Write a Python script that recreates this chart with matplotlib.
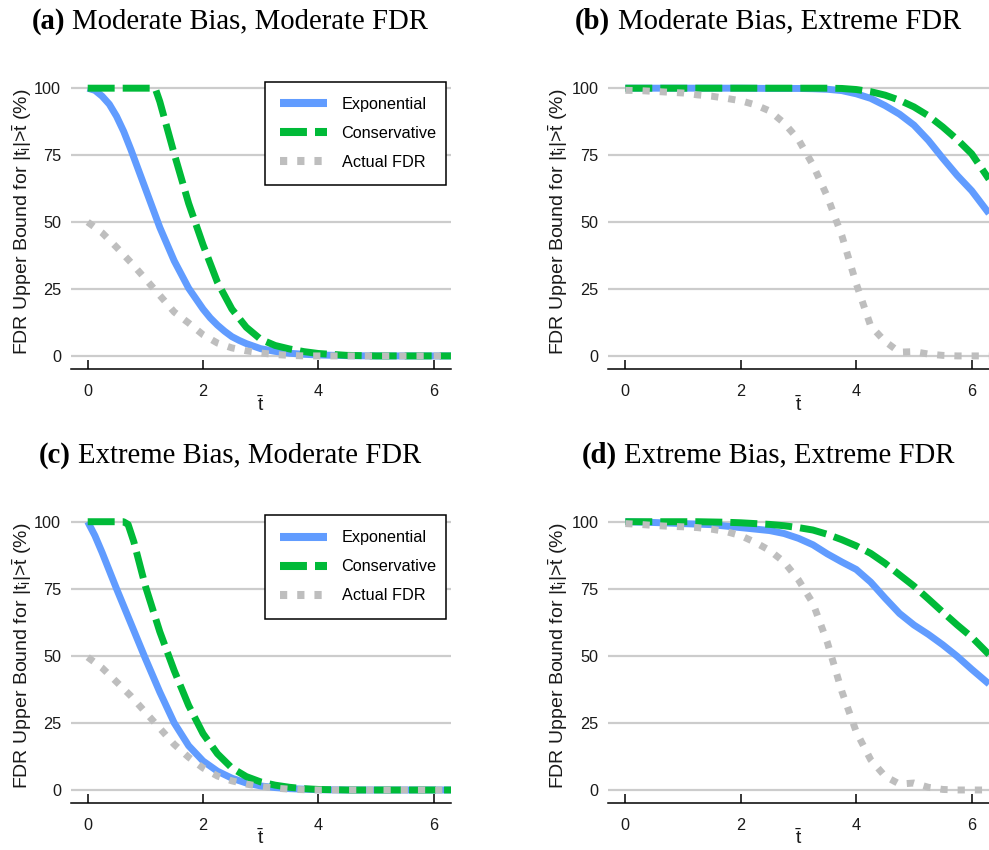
import matplotlib
matplotlib.use('Agg')
import matplotlib.pyplot as plt
from matplotlib.patches import Rectangle

plt.rcParams['mathtext.fontset'] = 'custom'
plt.rcParams['mathtext.rm'] = 'Liberation Sans'
plt.rcParams['mathtext.it'] = 'Liberation Sans'
plt.rcParams['mathtext.bf'] = 'Liberation Sans:bold'
plt.rcParams['font.family'] = ['Liberation Sans', 'DejaVu Sans']
plt.rcParams['lines.scale_dashes'] = False

# ---------------- data ----------------
series_labels = ['Exponential', 'Conservative', 'Actual FDR']
x_ticks = [0, 2, 4, 6]
y_ticks = [0, 25, 50, 75, 100]

grid_x = [0, 0.25, 0.5, 0.75, 1.0, 1.25, 1.5, 1.75, 2.0, 2.25, 2.5, 2.75, 3.0,
          3.25, 3.5, 3.75, 4.0, 4.25, 4.5, 4.75, 5.0, 5.25, 5.5, 5.75, 6.0, 6.3]

# (a) Moderate Bias, Moderate FDR
a_exp_x = [0, 0.125, 0.25, 0.375, 0.5, 0.625, 0.75, 1.0, 1.25, 1.5, 1.75, 2.0, 2.125, 2.25, 2.375,
           2.5, 2.625, 2.75, 3.0, 3.25, 3.5, 3.75, 4.0, 4.5, 5.0, 6.3]
a_exp_y = [100, 99.2, 97, 94, 89.5, 83.8, 77, 62.5, 48, 35.5, 25.3, 17.5, 14.2, 11.5, 9.2,
           7.2, 5.8, 4.6, 2.7, 1.7, 1.0, 0.6, 0.35, 0.1, 0, 0]
a_con_x = [0, 1.17, 1.25, 1.5, 1.75, 2.0, 2.25, 2.5, 2.75, 3.0, 3.25, 3.5, 3.75, 4.0, 4.5, 5.0, 6.3]
a_con_y = [100, 100, 95, 75.5, 57, 41.5, 27.5, 17.5, 10.7, 6.2, 3.9, 2.6, 1.6, 0.9, 0.2, 0, 0]
a_act_y = [50, 46, 40.6, 34.9, 28.8, 22.6, 16.4, 12.3, 7.9, 4.8, 3.0, 1.9, 1.1,
           0.5, 0.2, 0, 0, 0, 0, 0, 0, 0, 0, 0, 0, 0]

# (b) Moderate Bias, Extreme FDR
b_exp_x = [0, 1, 2, 2.5, 3.0, 3.25, 3.5, 3.75, 4.0, 4.25, 4.5, 4.75, 5.0, 5.25, 5.5, 5.75, 6.0, 6.3]
b_exp_y = [100, 100, 100, 99.9, 99.9, 99.8, 99.6, 99.1, 97.9, 96.2, 93.5, 90.3, 86.2, 80.5, 73.8, 67.4, 61.7, 53.2]
b_con_x = [0, 3.5, 3.75, 4.0, 4.25, 4.5, 4.75, 5.0, 5.25, 5.5, 5.75, 6.0, 6.3]
b_con_y = [100, 100, 99.9, 99.5, 98.7, 97.4, 95.5, 93, 89.7, 85.5, 80.8, 75.5, 66]
b_act_y = [99.2, 99.1, 98.8, 98.5, 98.2, 97.5, 97, 96.2, 95.3, 93.8, 91.5, 87, 80.8,
           71.3, 59.5, 45, 27, 11.2, 5.4, 1.4, 1.6, 0.7, 0.2, 0, 0, 0]

# (c) Extreme Bias, Moderate FDR
c_exp_x = [0, 0.125, 0.25, 0.5, 0.75, 1.0, 1.25, 1.5, 1.75, 2.0, 2.25, 2.5, 2.75, 3.0, 3.25, 3.5, 4.0, 4.5, 6.3]
c_exp_y = [100, 94.8, 88.5, 75, 62, 49, 36.5, 25, 16.5, 10.8, 7, 4.4, 2.6, 1.5, 0.9, 0.5, 0.1, 0, 0]
c_con_x = [0, 0.62, 0.7, 0.8, 1.0, 1.25, 1.5, 1.75, 2.0, 2.25, 2.5, 2.75, 3.0, 3.25, 3.5, 3.75, 4.0, 4.5, 6.3]
c_con_y = [100, 100, 99, 92.5, 76, 59, 44.5, 31.5, 21, 13.5, 8.2, 5, 3, 1.8, 1, 0.5, 0.2, 0, 0]
c_act_y = [49.5, 45.5, 40.3, 35, 29, 23, 17, 12.2, 8.2, 5.2, 3.4, 2.2, 1.3,
           0.7, 0.3, 0.1, 0, 0, 0, 0, 0, 0, 0, 0, 0, 0]

# (d) Extreme Bias, Extreme FDR
d_exp_x = [0, 0.5, 1.0, 1.5, 2.0, 2.5, 2.75, 3.0, 3.25, 3.5, 3.75, 4.0, 4.25, 4.5, 4.75, 5.0, 5.25, 5.5, 5.75, 6.0, 6.3]
d_exp_y = [100, 99.7, 99.3, 98.9, 97.8, 96.7, 95.6, 93.8, 91.4, 88, 85, 82.2, 77.5, 71.5, 65.8, 61.5, 58, 54.1, 49.8, 45, 39.5]
d_con_x = [0, 1.25, 1.5, 1.75, 2.0, 2.25, 2.5, 2.75, 3.0, 3.25, 3.5, 3.75, 4.0, 4.25, 4.5, 4.75, 5.0, 5.25, 5.5, 5.75, 6.0, 6.3]
d_con_y = [100, 100, 99.9, 99.8, 99.6, 99.3, 99, 98.5, 97.8, 96.9, 95.3, 93.3, 91, 88.2, 84.5, 80.2, 76, 71.2, 66.3, 61.5, 57, 50.5]
d_act_y = [99.3, 99, 98.6, 98.3, 98.1, 97.8, 97.2, 96.3, 94.8, 92.3, 89.3, 85, 78.3,
           69.6, 55, 36.8, 21.7, 11.3, 5.1, 2.2, 2.6, 1, 0.2, 0, 0, 0]

panel_tags = ['(a)', '(b)', '(c)', '(d)']
panel_titles = ['Moderate Bias, Moderate FDR', 'Moderate Bias, Extreme FDR',
                'Extreme Bias, Moderate FDR', 'Extreme Bias, Extreme FDR']

# ---------------- layout ----------------
W, H = 989, 850
fig = plt.figure(figsize=(W / 100, H / 100), dpi=100)

def rect(left, right, top, bottom):
    return [left / W, 1 - bottom / H, (right - left) / W, (bottom - top) / H]

boxes = [(70.7, 451, 74.8, 369.3), (608.3, 989, 74.8, 369.3),
         (70.7, 451, 508.3, 803.4), (608.3, 989, 508.3, 803.4)]
title_pos = [(230, 28.3), (768, 28.3), (230, 462.3), (768, 462.3)]
ylab_x = [22, 558, 22, 558]
xlab_y = [405, 405, 838, 838]

COL = ['#619CFF', '#00BA38', '#BEBEBE']
LW = 5.0

data = [
    (a_exp_x, a_exp_y, a_con_x, a_con_y, grid_x, a_act_y),
    (b_exp_x, b_exp_y, b_con_x, b_con_y, grid_x, b_act_y),
    (c_exp_x, c_exp_y, c_con_x, c_con_y, grid_x, c_act_y),
    (d_exp_x, d_exp_y, d_con_x, d_con_y, grid_x, d_act_y),
]

renderer = fig.canvas.get_renderer()

for i in range(4):
    l, r, t, b = boxes[i]
    aw, ah = r - l, b - t
    ax = fig.add_axes(rect(l, r, t, b))
    ex, ey, cx, cy, gx, gy = data[i]
    ax.plot(ex, ey, color=COL[0], lw=LW, solid_capstyle='butt', solid_joinstyle='round',
            label=series_labels[0])
    ax.plot(cx, cy, color=COL[1], lw=LW, dashes=(19.4, 5.8), dash_capstyle='butt',
            dash_joinstyle='round', label=series_labels[1])
    ax.plot(gx, gy, color=COL[2], lw=LW, dashes=(5.2, 7.2), dash_capstyle='butt',
            dash_joinstyle='round', label=series_labels[2])
    ax.set_xlim(-0.295, 6.3)
    ax.set_ylim(-5, 105)
    for s in ['left', 'top', 'right']:
        ax.spines[s].set_visible(False)
    ax.spines['bottom'].set_linewidth(1.1)
    ax.spines['bottom'].set_color('black')
    ax.set_xticks(x_ticks)
    ax.set_yticks(y_ticks)
    ax.tick_params(axis='y', length=0, pad=7, labelsize=11.7, labelcolor='#1a1a1a')
    ax.tick_params(axis='x', direction='in', length=6.2, width=1.1, pad=10.5,
                   labelsize=11.7, labelcolor='#1a1a1a')
    ax.grid(axis='y', color='#cccccc', lw=1.6)
    ax.set_axisbelow(True)
    ax.patch.set_alpha(0)

    if i in (0, 2):
        # legend frame (pixel box relative to axes)
        bx0, bx1 = 265 - l, 445.7 - l
        btop, bbot = 6.9, 110.2
        ax.add_patch(Rectangle((bx0 / aw, 1 - bbot / ah), (bx1 - bx0) / aw,
                               (bbot - btop) / ah, transform=ax.transAxes,
                               facecolor='white', edgecolor='black', lw=1.1,
                               zorder=4, clip_on=False))
        leg = ax.legend(loc='upper left', bbox_to_anchor=((280 - l) / aw, 1 - 22.1 / ah),
                        borderaxespad=0, borderpad=0, frameon=False,
                        fontsize=11.7, handlelength=2.87, handletextpad=0.92,
                        labelspacing=0.86)
        leg.set_zorder(5)
        for h in leg.get_lines():
            h.set_linewidth(5.8)

    # y label
    fig.text(ylab_x[i] / W, 1 - ((t + b) / 2) / H,
             'FDR Upper Bound for |t$_{\\mathrm{i}}$|>$\\bar{\\mathrm{t}}$ (%)',
             rotation=90, ha='center', va='center', fontsize=14, color='#1a1a1a')
    # x label
    fig.text(((l + r) / 2) / W, 1 - xlab_y[i] / H, '$\\bar{\\mathrm{t}}$',
             ha='center', va='center', fontsize=14, color='#1a1a1a')

    # title: bold tag + regular text, centered
    tcx, tby = title_pos[i]
    fs = 20.7
    t1 = fig.text(0, 1 - tby / H, panel_tags[i], fontfamily='Liberation Serif',
                  fontweight='bold', fontsize=fs, va='baseline', ha='left')
    t2 = fig.text(0, 1 - tby / H, panel_titles[i], fontfamily='Liberation Serif',
                  fontsize=fs, va='baseline', ha='left')
    w1 = t1.get_window_extent(renderer).width
    w2 = t2.get_window_extent(renderer).width
    sp = 0.25 * fs * 100 / 72
    x0 = tcx - (w1 + sp + w2) / 2
    t1.set_x(x0 / W)
    t2.set_x((x0 + w1 + sp) / W)

fig.savefig('out.png', dpi=100)
